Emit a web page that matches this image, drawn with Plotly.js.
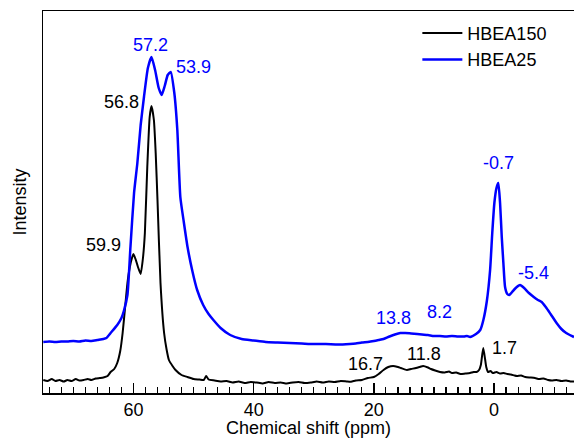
<!DOCTYPE html>
<html>
<head>
<meta charset="utf-8">
<script src="https://cdn.plot.ly/plotly-3.0.1.min.js"></script>
<style>html,body{margin:0;padding:0;background:#fff;}#chart{width:574px;height:438px;}</style>
</head>
<body>
<div id="chart"></div>
<script>
// HBEA150 (black) : chemical shift (ppm) and intensity (a.u.)
const ppm150 = [75,74.3,73.6,73,72.3,71.6,71,70.3,69.6,69,68.3,67.6,67,66.3,65.6,65,64.3,63.8,63.2,62.7,62.2,61.8,61.4,61.0,60.6,60.2,60.0,59.6,59.25,58.8,58.4,58.1,57.7,57.3,57.0,56.6,56.3,56.0,55.5,54.9,54.5,54.1,53.5,53.0,52.0,51.0,50.0,49.0,48.3,47.9,47.5,46.5,45.5,44.5,43.5,42.5,41.5,40.5,39.5,38.5,37.5,36.5,35.5,34.5,33.5,32.5,31.5,30.5,29.5,28.5,27.5,26.5,25.5,24.5,23.8,23,22,21,20,19.2,18.4,17.6,16.8,16.0,15.5,14.5,13.8,13.0,12.4,11.8,11.0,10.5,9.8,9.0,8.2,7.5,7.0,6.3,5.6,4.8,4.0,3.4,2.9,2.5,2.2,1.8,1.5,1.3,1.0,0.6,0.2,-0.4,-1.0,-1.6,-2.2,-2.8,-3.4,-3.8,-4.5,-5.2,-6.0,-6.8,-7.5,-8.2,-9.0,-9.6,-10.4,-11.2,-12.0,-12.7,-13.3];
const int150 = [13,12,14,12,13,11.5,13,12,14,12.5,13,14,13,14.5,15,15.5,17,21,24,30,42,60,85,110,126,136,139,133,126,119,136,160,226,276,287,273,240,193,110,60,44,33,27,23,18,16,14,13.5,13,17,13.5,12.5,11.5,12,10.5,11.5,10,11,10.5,9.5,11,10,10.5,9.5,10.5,11,10,10.5,11.5,10.5,11.5,11,12,11.5,11.3,12.5,13,15,16,19,23,26,27,26,25,23,24,25,26,27,25.5,24,22.5,21,20.5,21.5,20,20.5,19,19.5,20,21,21,23,28,45,34,26,21,22,20,21,19.5,20,19,18.5,17.5,17,17.5,16,15.5,15,14,14.5,13,12.5,13,12,12.5,11.5,11.5];

// HBEA25 (blue)
const ppm25 = [75,74,73,72,71,70,69,68,67,66,65,64.5,63.8,62.7,62.0,61.6,61.0,60.5,59.9,59.35,58.8,58.25,57.6,57.0,56.4,55.8,55.3,54.8,54.3,53.8,53.2,52.7,52.2,51.6,51.0,50.2,49.4,48.4,47.5,46.7,45.5,43.9,42,40,38,36,34,32,30,28,26,24,23,22,21,20,19.2,18.4,17.4,16.5,15.6,14.8,13.8,12.8,12.0,11,10,9,8,7,6,5,4.5,4.0,3.0,2.3,1.78,1.2,0.66,0.3,-0.05,-0.4,-0.71,-1.0,-1.28,-1.55,-1.83,-2.2,-2.54,-3.0,-3.6,-4.32,-5.0,-5.8,-6.6,-7.3,-7.92,-8.6,-9.4,-10.4,-11.2,-12.0,-12.6,-13.3];
const int25 = [51,51.5,51,51.5,51.5,52,51.5,52.5,52,53,54,55,60,68,75,82,98,146,200,230,268,296,325,336,323,305,298,307,318,321,300,263,196,170,146,122,103,88,79,73,65,58,54,52.5,51,50.5,50,49.5,49,49,48.5,49,49.5,50.5,51,52,53,54,56.5,58.5,60,60,59.5,59,58.5,58,57,57,56.5,57,56.5,56.5,57,56,59,63,73,92,123,160,190,205,210,190,156,130,106,99,98,101,105,108,105,100,96,93,91,86,79,70,64,60,58,56];

const xTickVals = [60, 40, 20, 0];
const xTickText = ['60', '40', '20', '0'];

// peak labels
const labelText = ['57.2','53.9','56.8','59.9','13.8','8.2','16.7','11.8','1.7','-0.7','-5.4'];
const labelPpm  = [57.1, 50.0, 62.0, 64.95, 16.8, 9.1, 21.4, 11.6, -1.66, -0.66, -6.64];
const labelInt  = [348, 326, 291, 148, 75, 81, 29, 39, 45, 230, 120];
const labelSeries = [1,1,0,0,1,1,0,0,0,1,1];

const colors = ['#000000', '#0000ff'];
const FONT = 'Liberation Sans, Arial, sans-serif';
const FS = 18;

const traces = [
  {x: ppm150, y: int150, type: 'scatter', mode: 'lines', name: 'HBEA150',
   line: {color: colors[0], width: 2, shape: 'spline', smoothing: 0.5}},
  {x: ppm25, y: int25, type: 'scatter', mode: 'lines', name: 'HBEA25',
   line: {color: colors[1], width: 2.5, shape: 'spline', smoothing: 0.5}}
];

const annotations = labelText.map((t, i) => ({
  x: labelPpm[i], y: labelInt[i], xref: 'x', yref: 'y', text: t, showarrow: false,
  font: {family: FONT, size: FS, color: colors[labelSeries[i]]}
}));

const layout = {
  width: 574, height: 438,
  margin: {l: 43, r: 0, t: 11, b: 45},
  paper_bgcolor: '#fff', plot_bgcolor: '#fff',
  font: {family: FONT, size: FS, color: '#000'},
  showlegend: true,
  legend: {x: 0.705, y: 0.99, xanchor: 'left', yanchor: 'top', bgcolor: 'rgba(0,0,0,0)',
           font: {family: FONT, size: FS}, tracegroupgap: 0, itemwidth: 40},
  xaxis: {
    range: [75.05, -13.3], autorange: false,
    tickvals: xTickVals, ticktext: xTickText,
    ticks: 'inside', ticklen: 10, tickwidth: 1.5, tickcolor: '#000',
    minor: {dtick: 2, tick0: 0, ticks: 'inside', ticklen: 6, tickwidth: 1.2, tickcolor: '#000'},
    showline: true, linecolor: '#000', linewidth: 1.5, mirror: true,
    showgrid: false, zeroline: false,
    tickfont: {family: FONT, size: FS},
    title: {text: 'Chemical shift (ppm)', font: {family: FONT, size: FS}, standoff: 1}
  },
  yaxis: {
    range: [0, 382], autorange: false,
    showticklabels: false, ticks: '',
    showline: true, linecolor: '#000', linewidth: 1.5,
    showgrid: false, zeroline: false,
    title: {text: 'Intensity', font: {family: FONT, size: FS}, standoff: 10}
  },
  annotations: annotations
};

Plotly.newPlot('chart', traces, layout, {displayModeBar: false, staticPlot: true});
</script>
</body>
</html>
